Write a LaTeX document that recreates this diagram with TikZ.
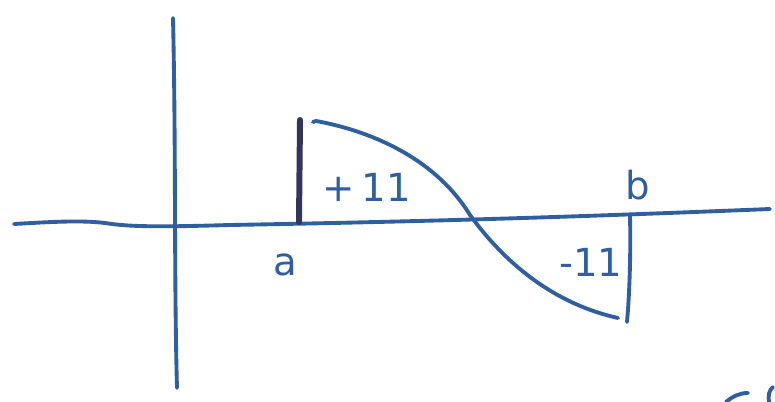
\documentclass[tikz,border=0pt]{standalone}
\usepackage{fontspec}
\setmainfont{DejaVu Sans}
\definecolor{ink}{HTML}{2F5F9E}
\definecolor{darkink}{HTML}{33365A}
\begin{document}
\begin{tikzpicture}[x=0.02cm,y=-0.02cm,
  pen/.style={draw=ink,line width=2.2pt,line cap=round,line join=round},
  label/.style={text=ink,font=\fontsize{22}{24}\selectfont}]
\useasboundingbox (0,0) rectangle (775,402);
% horizontal axis
\coordinate (hl) at (14,224);
\coordinate (hr) at (770,209);
\draw[pen] (hl) .. controls (50,222) and (80,220) .. (105,223)
  .. controls (130,227) and (160,227) .. (230,225)
  .. controls (400,222) and (550,218) .. (hr);
% vertical axis
\coordinate (vt) at (173,18);
\coordinate (vb) at (177,388);
\draw[pen] (vt) .. controls (176,150) and (174,280) .. (vb);
% dark vertical at a
\coordinate (at) at (300,120);
\coordinate (ab) at (299,222);
\draw[draw=darkink,line width=3.4pt,line cap=round] (at) -- (ab);
% curve
\coordinate (c0) at (313,122);
\coordinate (cm) at (470,215);
\coordinate (c1) at (618,318);
\draw[pen] (c0) -- (316,121) .. controls (355,128) and (430,150) .. (cm)
  .. controls (510,270) and (560,305) .. (c1);
% right vertical
\coordinate (bt) at (630,216);
\coordinate (bb) at (627,322);
\draw[pen] (bt) .. controls (631,260) and (629,300) .. (bb);
% labels
\node[label] (plus) at (367,187) {+\,11};
\node[label] (minus) at (591,262) {-11};
\node[label] (la) at (285,265) {a};
\node[label] (lb) at (638,185) {b};
% partial stroke bottom right
\coordinate (s0) at (726,402);
\coordinate (s1) at (748,393);
\draw[pen] (s0) .. controls (733,396) and (740,393) .. (s1);
\draw[pen] (773,387) .. controls (769,390) and (768,396) .. (769,402);
\end{tikzpicture}
\end{document}
